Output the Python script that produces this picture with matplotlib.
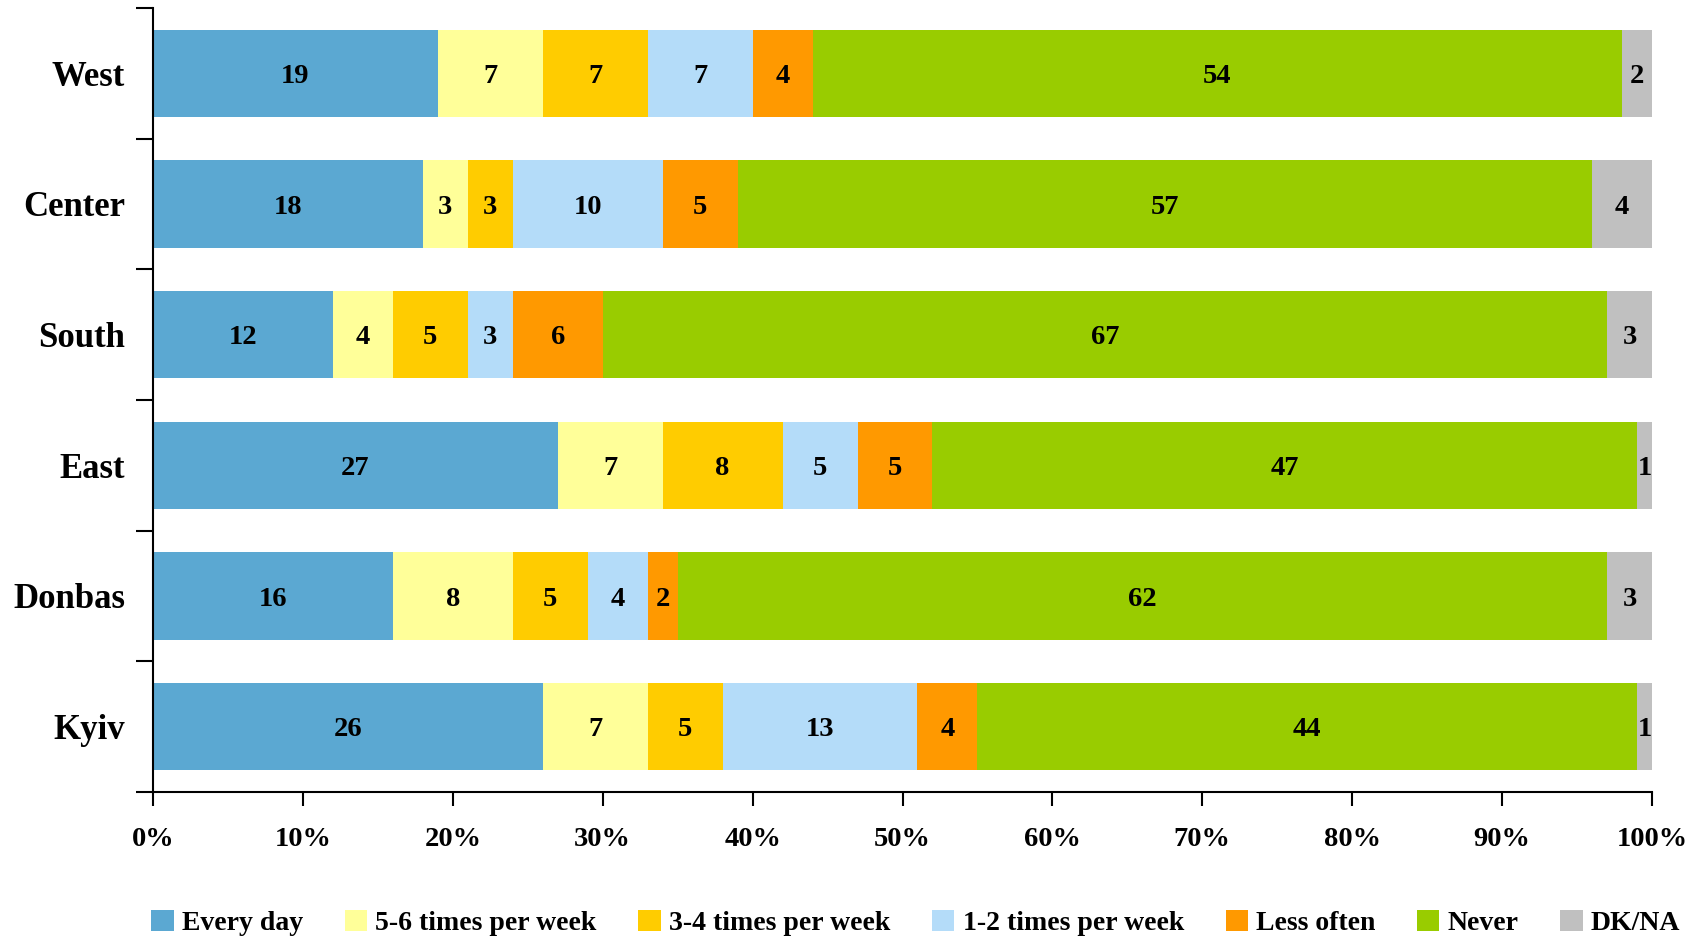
import numpy as np
from matplotlib import pyplot as plt
from matplotlib.ticker import FixedLocator, PercentFormatter

plt.rcParams['font.family'] = ['Liberation Serif', 'DejaVu Serif']
plt.rcParams['font.weight'] = 'bold'

regions = ["West", "Center", "South", "East", "Donbas", "Kyiv"]
series = ["Every day", "5-6 times per week", "3-4 times per week",
          "1-2 times per week", "Less often", "Never", "DK/NA"]
every_day = [19, 18, 12, 27, 16, 26]
times_5_6 = [7, 3, 4, 7, 8, 7]
times_3_4 = [7, 3, 5, 8, 5, 5]
times_1_2 = [7, 10, 3, 5, 4, 13]
less_often = [4, 5, 6, 5, 2, 4]
never = [54, 57, 67, 47, 62, 44]
dk_na = [2, 4, 3, 1, 3, 1]
colors = ["#5BA8D2", "#FFFF99", "#FFCC00", "#B4DCF9", "#FF9900", "#99CC00", "#C0C0C0"]

data = np.array([every_day, times_5_6, times_3_4, times_1_2, less_often, never, dk_na], dtype=float)
pct = data / data.sum(axis=0) * 100

fig = plt.figure(figsize=(17.05, 9.39), dpi=100)
ax = fig.add_axes([153 / 1705, 1 - 792 / 939, (1652 - 153) / 1705, (792 - 8) / 939])

y = np.arange(len(regions))[::-1]
left = np.zeros(len(regions))
for i, name in enumerate(series):
    bars = ax.barh(y, pct[i], left=left, height=0.667, color=colors[i], label=name)
    for b, v in zip(bars, data[i]):
        ax.text(b.get_x() + b.get_width() / 2, b.get_y() + b.get_height() / 2,
                "%d" % v, ha="center", va="center_baseline", fontsize=20.5, fontweight="bold")
    left += pct[i]

ax.set_xlim(0, 100)
ax.set_ylim(-0.5, len(regions) - 0.5)
ax.xaxis.set_major_locator(FixedLocator(np.arange(0, 101, 10)))
ax.xaxis.set_major_formatter(PercentFormatter(decimals=0))
ax.set_yticks(y)
ax.set_yticklabels(regions, fontsize=25)
ax.yaxis.set_minor_locator(FixedLocator(np.arange(-0.5, len(regions), 1)))
ax.tick_params(axis="y", which="major", length=0, pad=20)
ax.tick_params(axis="y", which="minor", length=12, width=1.5, direction="out")
ax.tick_params(axis="x", length=10, width=1.5, direction="out", labelsize=20.5, pad=15)
for lab in ax.get_xticklabels():
    lab.set_fontweight("bold")
ax.spines["top"].set_visible(False)
ax.spines["right"].set_visible(False)
ax.spines["left"].set_linewidth(1.5)
ax.spines["bottom"].set_linewidth(1.5)

fig.legend(loc="center", bbox_to_anchor=(916 / 1705, 1 - 923 / 939), ncol=7,
           frameon=False, fontsize=20, handlelength=0.8, handleheight=0.8,
           handletextpad=0.3, columnspacing=1.5, borderaxespad=0)

fig.savefig("out.png", dpi=100)
